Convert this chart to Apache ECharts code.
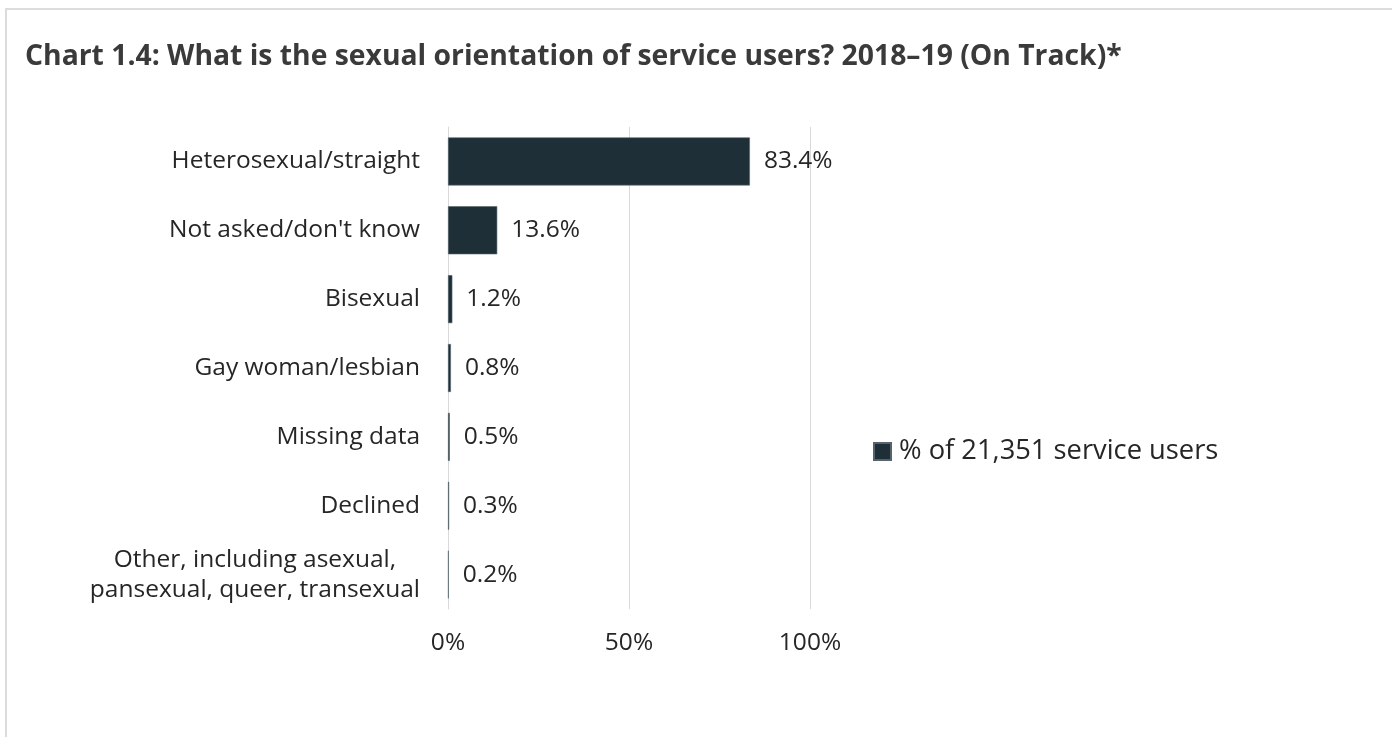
<!DOCTYPE html>
<html>
<head>
<meta charset="utf-8">
<script src="https://cdn.jsdelivr.net/npm/echarts@6/dist/echarts.min.js"></script>
<style>
  html, body { margin: 0; padding: 0; background: #ffffff; }
  #frame {
    position: absolute; left: 5px; top: 8px; right: -10px; bottom: -10px;
    border-top: 2px solid #dcdcdc; border-left: 2px solid #dcdcdc;
  }
  #chart { position: absolute; left: 0; top: 0; width: 1392px; height: 737px; }
</style>
</head>
<body>
<div id="frame"></div>
<div id="chart"></div>
<script>
// Sexual orientation of service users, 2018–19 (On Track)
const categories = [
  "Heterosexual/straight",
  "Not asked/don't know",
  "Bisexual",
  "Gay woman/lesbian",
  "Missing data",
  "Declined",
  "Other, including asexual,\npansexual, queer, transexual"
];
const shareOfUsers = [83.4, 13.6, 1.2, 0.8, 0.5, 0.3, 0.2];
const xTicks = [0, 50, 100];
const seriesName = "% of 21,351 service users";
const titleText = "Chart 1.4: What is the sexual orientation of service users? 2018–19 (On Track)*";

const FONT = "'Open Sans', 'Noto Sans', sans-serif";
const BAR = "#1e2f38";
const TEXT = "#262626";
const LABEL_SIZE = 24.5;

const chart = echarts.init(document.getElementById('chart'), null, { renderer: 'canvas' });

chart.setOption({
  backgroundColor: 'transparent',
  animation: false,
  title: {
    text: titleText,
    left: 20, top: 38,
    textStyle: { fontFamily: FONT, fontWeight: 'bold', fontSize: 28.3, color: '#3a3a3a' }
  },
  legend: {
    left: 868, top: 433,
    itemWidth: 17, itemHeight: 17, itemGap: 8,
    icon: 'rect',
    textStyle: { fontFamily: FONT, fontSize: 27.3, color: TEXT, padding: [0, 0, 0, 3] },
    data: [seriesName]
  },
  grid: { left: 448, top: 127, width: 362, height: 482, containLabel: false },
  xAxis: {
    type: 'value', min: 0, max: 100, interval: 50,
    axisLine: { show: false },
    axisTick: { show: false },
    splitLine: { show: true, lineStyle: { color: '#d9d9d9', width: 1 } },
    axisLabel: {
      margin: 22, fontFamily: FONT, fontSize: LABEL_SIZE, color: TEXT,
      formatter: v => xTicks.includes(v) ? v + '%' : ''
    }
  },
  yAxis: {
    type: 'category', inverse: true, data: categories,
    axisLine: { show: true, lineStyle: { color: '#d9d9d9', width: 1 } },
    axisTick: { show: false },
    axisLabel: {
      margin: 28, fontFamily: FONT, fontSize: LABEL_SIZE, color: TEXT, lineHeight: 30,
      formatter: v => v.split('\n').map(s => '{c|' + s + '}').join('\n'),
      rich: {
        c: { fontFamily: FONT, fontSize: LABEL_SIZE, color: TEXT, lineHeight: 30, align: 'center' }
      }
    }
  },
  series: [{
    name: seriesName,
    type: 'bar',
    data: shareOfUsers,
    barWidth: 48,
    itemStyle: { color: BAR, borderColor: '#55646c', borderWidth: 0.6 },
    label: {
      show: true, position: 'right', distance: 14,
      fontFamily: FONT, fontSize: LABEL_SIZE, color: TEXT,
      formatter: p => p.value.toFixed(1) + '%'
    }
  }]
});
</script>
</body>
</html>
